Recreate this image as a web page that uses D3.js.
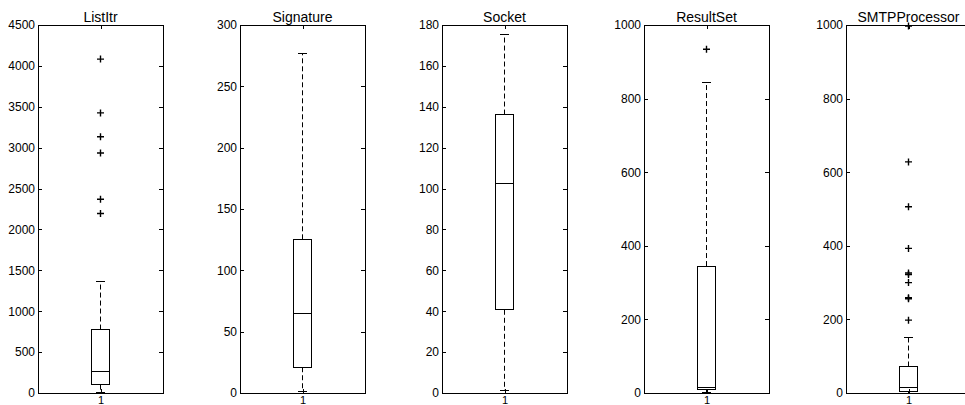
<!DOCTYPE html>
<html>
<head>
<meta charset="utf-8">
<script src="https://cdn.jsdelivr.net/npm/d3@7.9.0/dist/d3.min.js"></script>
<style>
  body { margin: 0; background: #fff; }
  svg { display: block; font-family: "Liberation Sans", Arial, sans-serif; }
</style>
</head>
<body>
<svg id="chart" width="965" height="405"></svg>
<script>
const titles = ["ListItr", "Signature", "Socket", "ResultSet", "SMTPProcessor"];
const yMax = [4500, 300, 180, 1000, 1000];
const yTicks = [
  [0, 500, 1000, 1500, 2000, 2500, 3000, 3500, 4000, 4500],
  [0, 50, 100, 150, 200, 250, 300],
  [0, 20, 40, 60, 80, 100, 120, 140, 160, 180],
  [0, 200, 400, 600, 800, 1000],
  [0, 200, 400, 600, 800, 1000]
];
const xTicks = [1];
const lowerWhisker = [8, 1, 1, 1, 0];
const q1 = [102, 21, 40.7, 9, 3];
const median = [261, 64.6, 102.7, 16, 16];
const q3 = [776, 125.3, 136.2, 345, 72];
const upperWhisker = [1369, 276.5, 175.2, 845, 151];
const outliers = [
  [4083, 3425, 3134, 2934, 2370, 2195],
  [],
  [],
  [934],
  [997, 628, 506, 393, 326, 322, 300, 259, 256, 198]
];

const svg = d3.select("#chart");
const plotTop = 25, plotBottom = 393, panelW = 125, step = 202, firstLeft = 38;
const tickLen = 4;
const fmt = d3.format("d");

titles.forEach((title, i) => {
  const left = firstLeft + i * step;
  const x = d3.scaleLinear().domain([0.5, 1.5]).range([left, left + panelW]);
  const y = d3.scaleLinear().domain([0, yMax[i]]).range([plotBottom, plotTop]);
  const g = svg.append("g");

  // box frame
  g.append("rect")
    .attr("x", x(0.5)).attr("y", y(yMax[i]))
    .attr("width", x(1.5) - x(0.5)).attr("height", y(0) - y(yMax[i]))
    .attr("fill", "none").attr("stroke", "#000").attr("stroke-width", 1)
    .attr("shape-rendering", "crispEdges");

  // y ticks, left and right inside, labels on left
  const yAxis = d3.axisLeft(y).tickValues(yTicks[i]).tickSize(-tickLen).tickPadding(3).tickFormat(fmt);
  g.append("g").attr("transform", `translate(${x(0.5)},0)`).call(yAxis)
    .call(a => a.select(".domain").remove())
    .call(a => a.selectAll("text").attr("font-size", 12).attr("fill", "#000").attr("font-family", null))
    .call(a => a.selectAll("line").attr("shape-rendering", "crispEdges"));
  g.append("g").attr("transform", `translate(${x(1.5)},0)`)
    .call(d3.axisRight(y).tickValues(yTicks[i]).tickSize(-tickLen).tickFormat(""))
    .call(a => a.select(".domain").remove())
    .call(a => a.selectAll("line").attr("shape-rendering", "crispEdges"));

  // x tick "1", bottom and top
  g.append("g").attr("transform", `translate(0,${plotBottom})`)
    .call(d3.axisBottom(x).tickValues(xTicks).tickSize(-tickLen).tickPadding(3).tickFormat(fmt))
    .call(a => a.select(".domain").remove())
    .call(a => a.selectAll("text").attr("font-size", 11).attr("fill", "#000").attr("font-family", null))
    .call(a => a.selectAll("line").attr("shape-rendering", "crispEdges"));
  g.append("g").attr("transform", `translate(0,${plotTop})`)
    .call(d3.axisTop(x).tickValues(xTicks).tickSize(-tickLen).tickFormat(""))
    .call(a => a.select(".domain").remove())
    .call(a => a.selectAll("line").attr("shape-rendering", "crispEdges"));

  // title
  g.append("text")
    .attr("x", x(1)).attr("y", plotTop - 3)
    .attr("text-anchor", "middle").attr("font-size", 14).attr("fill", "#000")
    .text(title);

  const cx = x(1);
  const boxHalf = (x(1.075) - x(1));
  const capHalf = boxHalf / 2;

  // whiskers (dashed)
  g.append("line")
    .attr("x1", cx).attr("x2", cx)
    .attr("y1", y(q3[i])).attr("y2", y(upperWhisker[i]))
    .attr("stroke", "#000").attr("stroke-dasharray", "5,3");
  g.append("line")
    .attr("x1", cx).attr("x2", cx)
    .attr("y1", y(q1[i])).attr("y2", y(lowerWhisker[i]))
    .attr("stroke", "#000").attr("stroke-dasharray", "5,3");

  // whisker caps
  [upperWhisker[i], lowerWhisker[i]].forEach(v => {
    g.append("line")
      .attr("x1", cx - capHalf).attr("x2", cx + capHalf)
      .attr("y1", y(v)).attr("y2", y(v))
      .attr("stroke", "#000").attr("shape-rendering", "crispEdges");
  });

  // box
  g.append("rect")
    .attr("x", cx - boxHalf).attr("y", y(q3[i]))
    .attr("width", boxHalf * 2).attr("height", y(q1[i]) - y(q3[i]))
    .attr("fill", "none").attr("stroke", "#000")
    .attr("shape-rendering", "crispEdges");

  // median
  g.append("line")
    .attr("x1", cx - boxHalf).attr("x2", cx + boxHalf)
    .attr("y1", y(median[i])).attr("y2", y(median[i]))
    .attr("stroke", "#000").attr("shape-rendering", "crispEdges");

  // outliers
  g.selectAll(".out").data(outliers[i]).join("path")
    .attr("class", "out")
    .attr("transform", d => `translate(${cx},${y(d)})`)
    .attr("d", "M-3.5,0H3.5M0,-3.5V3.5")
    .attr("stroke", "#000").attr("stroke-width", 1.4).attr("fill", "none");
});
</script>
</body>
</html>
